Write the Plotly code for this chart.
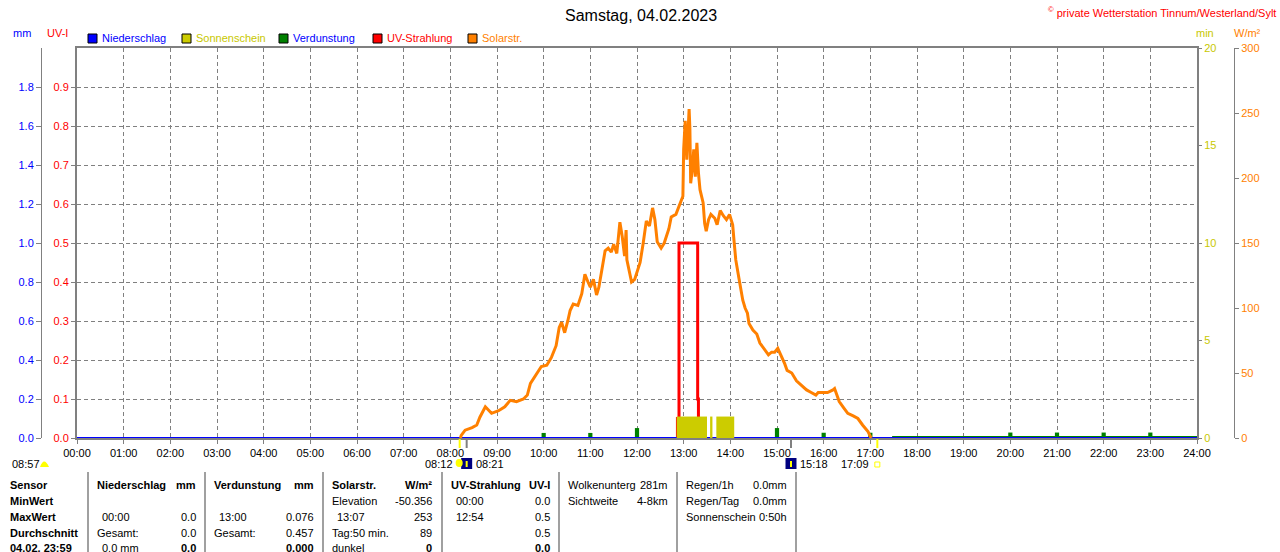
import plotly.graph_objects as go

# ---- Tagesdaten 04.02.2023 ----
solar_t = [
    "08:13", "08:14", "08:19", "08:28", "08:34", "08:38", "08:45", "08:53", "09:02", "09:10",
    "09:17", "09:25", "09:34", "09:39", "09:43", "09:51", "09:57", "10:04", "10:10", "10:16",
    "10:20", "10:23", "10:27", "10:31", "10:34", "10:38", "10:44", "10:49", "10:53", "10:57",
    "11:00", "11:04", "11:08", "11:11", "11:16", "11:19", "11:23", "11:27", "11:30", "11:34",
    "11:38", "11:41", "11:44", "11:46", "11:47", "11:50", "11:53", "11:57", "12:01", "12:04",
    "12:08", "12:12", "12:16", "12:20", "12:23", "12:26", "12:31", "12:35", "12:41", "12:44",
    "12:50", "12:55", "12:59", "13:00", "13:02", "13:04", "13:07", "13:08", "13:09", "13:11",
    "13:13", "13:15", "13:17", "13:19", "13:21", "13:25", "13:27", "13:29", "13:32", "13:35",
    "13:40", "13:43", "13:47", "13:51", "13:55", "13:59", "14:03", "14:05", "14:07", "14:11",
    "14:12", "14:16", "14:19", "14:22", "14:24", "14:29", "14:34", "14:38", "14:43", "14:49",
    "14:53", "14:57", "15:01", "15:05", "15:10", "15:13", "15:19", "15:25", "15:31", "15:38",
    "15:44", "15:50", "15:53", "15:58", "16:05", "16:12", "16:14", "16:17", "16:20", "16:26",
    "16:31", "16:38", "16:44", "16:50", "16:57", "17:01",
]
solar_v = [
    0, 2, 6, 8, 10, 16, 24, 19, 21, 24,
    29, 28, 30, 33, 42, 49, 55, 56, 62, 71,
    85, 89, 81, 90, 98, 103, 102, 111, 126, 120,
    116, 122, 110, 116, 134, 144, 146, 143, 149, 142,
    166, 155, 140, 160, 137, 128, 120, 122, 130, 135,
    150, 167, 163, 177, 168, 151, 146, 150, 161, 170,
    172, 179, 186, 222, 244, 214, 253, 238, 196, 206,
    222, 201, 227, 204, 191, 181, 165, 159, 168, 172,
    169, 164, 175, 171, 168, 172, 164, 150, 137, 123,
    119, 106, 100, 96, 88, 83, 80, 73, 69, 64,
    66, 66, 69, 64, 57, 52, 50, 44, 41, 37,
    35, 33, 35, 35, 35, 37, 38, 33, 28, 23,
    19, 17, 15, 10, 5, 0,
]

uv_t = ["12:52", "12:52", "12:54", "13:18", "13:19"]
uv_v = [0.0, 0.05, 0.5, 0.1, 0.0]

sun_start = ["12:51", "13:34", "13:42"]
sun_end = ["13:30", "13:37", "14:05"]
sun_min = [1.1, 1.1, 1.1]

verd_t = ["10:00", "11:00", "12:00", "13:00", "14:00", "15:00",
          "16:00", "17:00", "20:00", "21:00", "22:00", "23:00"]
verd_v = [0.026, 0.026, 0.051, 0.076, 0.071, 0.051,
          0.027, 0.027, 0.028, 0.028, 0.028, 0.028]
verd_line_t = ["17:28", "24:00"]
verd_line_v = [0.0, 0.0]

nied_t = ["00:00", "24:00"]
nied_v = [0.0, 0.0]

hour_labels = ["00:00", "01:00", "02:00", "03:00", "04:00", "05:00", "06:00", "07:00",
               "08:00", "09:00", "10:00", "11:00", "12:00", "13:00", "14:00", "15:00",
               "16:00", "17:00", "18:00", "19:00", "20:00", "21:00", "22:00", "23:00", "24:00"]
mm_ticks = [0.0, 0.2, 0.4, 0.6, 0.8, 1.0, 1.2, 1.4, 1.6, 1.8]
uv_ticks = [0.0, 0.1, 0.2, 0.3, 0.4, 0.5, 0.6, 0.7, 0.8, 0.9]
min_ticks = [0, 5, 10, 15, 20]
wm2_ticks = [0, 50, 100, 150, 200, 250, 300]

sun_events = ["08:12", "17:09"]    # Aufgang / Untergang
moon_events = ["08:21", "15:18"]
day_length = "08:57"

legend_names = ["Niederschlag", "Sonnenschein", "Verdunstung", "UV-Strahlung", "Solarstr."]

row_labels = ["Sensor", "MinWert", "MaxWert", "Durchschnitt", "04.02. 23:59"]
table_cols = [
    [("Niederschlag", "mm"), ("", ""), ("00:00", "0.0"), ("Gesamt:", "0.0"), ("0.0 mm", "0.0")],
    [("Verdunstung", "mm"), ("", ""), ("13:00", "0.076"), ("Gesamt:", "0.457"), ("", "0.000")],
    [("Solarstr.", "W/m²"), ("Elevation", "-50.356"), ("13:07", "253"), ("Tag:50 min.", "89"), ("dunkel", "0")],
    [("UV-Strahlung", "UV-I"), ("00:00", "0.0"), ("12:54", "0.5"), ("", "0.5"), ("", "0.0")],
]
info_cols = [
    [("Wolkenunterg", "281m"), ("Sichtweite", "4-8km")],
    [("Regen/1h", "0.0mm"), ("Regen/Tag", "0.0mm"), ("Sonnenschein", "0:50h")],
]

# ---- Layout in Pixeln ----
ML, MR, MT, MB = 30, 30, 48, 114
PW = 1280 - ML - MR
PH = 552 - MT - MB
FONT = "Liberation Sans, Arial, sans-serif"
GREY = "#808080"
BLUE, RED, GREEN, ORANGE, OLIVE = "#0000ff", "#ff0000", "#008000", "#ff8000", "#cccc00"


def px(x):
    return (x - ML) / PW


def py(y):
    return (MT + PH - y) / PH


def hrs(s):
    h, m = s.split(":")
    return int(h) + int(m) / 60.0


def text(fig, x, y, s, color="black", size=11, anchor="left", xref="paper", xshift=0):
    fig.add_annotation(
        x=x if xref != "paper" else px(x), y=py(y), xref=xref, yref="paper",
        text=s, showarrow=False, xanchor=anchor, yanchor="middle", xshift=xshift,
        font={"family": FONT, "size": size, "color": color},
    )


fig = go.Figure()

# Sonnenschein (min)
fig.add_trace(go.Bar(
    x=[(hrs(a) + hrs(b)) / 2 for a, b in zip(sun_start, sun_end)],
    width=[hrs(b) - hrs(a) for a, b in zip(sun_start, sun_end)],
    y=sun_min, yaxis="y3", marker={"color": OLIVE, "line": {"width": 0}},
))
# Verdunstung (mm)
fig.add_trace(go.Bar(
    x=[hrs(t) for t in verd_t], y=verd_v, width=0.09, yaxis="y2",
    marker={"color": GREEN, "line": {"width": 0}},
))
# Solarstrahlung (W/m2)
fig.add_trace(go.Scatter(
    x=[hrs(t) for t in solar_t], y=solar_v, yaxis="y4", mode="lines",
    line={"color": ORANGE, "width": 3},
))
# UV
fig.add_trace(go.Scatter(
    x=[hrs(t) for t in uv_t], y=uv_v, yaxis="y", mode="lines",
    line={"color": RED, "width": 3, "shape": "hv"},
))
fig.add_trace(go.Scatter(
    x=[hrs(t) for t in verd_line_t], y=verd_line_v, yaxis="y2", mode="lines",
    line={"color": GREEN, "width": 4},
))
fig.add_trace(go.Scatter(
    x=[hrs(t) for t in nied_t], y=nied_v, yaxis="y2", mode="lines",
    line={"color": BLUE, "width": 2},
))

fig.update_layout(
    width=1280, height=552,
    margin={"l": ML, "r": MR, "t": MT, "b": MB},
    paper_bgcolor="white", plot_bgcolor="white",
    showlegend=False, barmode="overlay",
    font={"family": FONT, "size": 11},
    xaxis={
        "domain": [px(77), px(1197)], "range": [0, 24],
        "tickvals": list(range(25)), "ticktext": hour_labels,
        "showgrid": True, "gridcolor": GREY, "griddash": "4px,3px", "gridwidth": 1,
        "showline": True, "mirror": True, "linecolor": GREY, "linewidth": 2,
        "ticks": "outside", "ticklen": 4, "tickcolor": GREY,
        "tickfont": {"color": "black", "size": 11}, "zeroline": False,
        "layer": "below traces",
    },
    yaxis={
        "range": [0, 1.0], "tickvals": uv_ticks, "ticktext": [f"{v:.1f}" for v in uv_ticks],
        "showgrid": True, "gridcolor": GREY, "griddash": "4px,3px", "gridwidth": 1,
        "showline": True, "mirror": True, "linecolor": GREY, "linewidth": 2,
        "ticks": "outside", "ticklen": 4, "tickcolor": GREY,
        "tickfont": {"color": RED, "size": 11}, "zeroline": False,
        "layer": "below traces",
    },
    yaxis2={
        "overlaying": "y", "anchor": "free", "position": px(41), "side": "left",
        "range": [0, 2.0], "tickvals": mm_ticks, "ticktext": [f"{v:.1f}" for v in mm_ticks],
        "showgrid": False, "showline": True, "linecolor": GREY, "linewidth": 1,
        "ticks": "outside", "ticklen": 5, "tickcolor": GREY,
        "tickfont": {"color": BLUE, "size": 11}, "zeroline": False,
    },
    yaxis3={
        "overlaying": "y", "anchor": "x", "side": "right",
        "range": [0, 20], "tickvals": min_ticks,
        "showgrid": False, "showline": False,
        "ticks": "outside", "ticklen": 4, "tickcolor": GREY,
        "tickfont": {"color": "#c8c800", "size": 11}, "zeroline": False,
    },
    yaxis4={
        "overlaying": "y", "anchor": "free", "position": px(1234), "side": "right",
        "range": [0, 300], "tickvals": wm2_ticks,
        "showgrid": False, "showline": True, "linecolor": GREY, "linewidth": 1,
        "ticks": "outside", "ticklen": 4, "tickcolor": GREY,
        "tickfont": {"color": ORANGE, "size": 11}, "zeroline": False,
    },
)

# Titel und Kopfzeile
text(fig, 641, 15, "Samstag, 04.02.2023", size=16, anchor="center")
text(fig, 1278, 12, "<sup>©</sup> private Wetterstation Tinnum/Westerland/Sylt", color=RED, anchor="right")
text(fig, 22, 33, "mm", color=BLUE, anchor="center")
text(fig, 57, 33, "UV-I", color=RED, anchor="center")
text(fig, 1205, 33, "min", color="#c8c800", anchor="center")
text(fig, 1247, 33, "W/m²", color=ORANGE, anchor="center")

# Legende
legend_box = [BLUE, OLIVE, GREEN, RED, ORANGE]
legend_txt = [BLUE, "#c8c800", BLUE, RED, ORANGE]
legend_x = [88, 182, 279, 373, 468]
for name, bc, tc, lx in zip(legend_names, legend_box, legend_txt, legend_x):
    fig.add_shape(type="rect", xref="paper", yref="paper",
                  x0=px(lx), x1=px(lx + 9), y0=py(43), y1=py(34),
                  fillcolor=bc, line={"color": "black", "width": 1})
    text(fig, lx + 12, 38, name, color=tc)

# Sonnen-/Mondmarken an der Zeitachse
for t in sun_events:
    fig.add_shape(type="line", xref="x", yref="paper", x0=hrs(t), x1=hrs(t),
                  y0=py(439), y1=py(448), line={"color": "#ffff00", "width": 2})
for t in moon_events:
    fig.add_shape(type="line", xref="x", yref="paper", x0=hrs(t), x1=hrs(t),
                  y0=py(439), y1=py(448), line={"color": GREY, "width": 2})
    fig.add_shape(type="rect", xref="x", yref="paper",
                  x0=hrs(t) - 5.5 / 46.625, x1=hrs(t) + 5.5 / 46.625, y0=py(469), y1=py(458),
                  fillcolor="#000080", line={"width": 0})
    fig.add_shape(type="line", xref="x", yref="paper", x0=hrs(t), x1=hrs(t),
                  y0=py(467), y1=py(461), line={"color": "#ffff00", "width": 2})
    text(fig, hrs(t), 464, t, anchor="left", xref="x", xshift=7)

fig.add_shape(type="circle", xref="x", yref="paper",
              x0=hrs(sun_events[0]) - 4 / 46.625, x1=hrs(sun_events[0]) + 3 / 46.625,
              y0=py(467), y1=py(459), fillcolor="#ffff00", line={"width": 0})
text(fig, hrs(sun_events[0]), 464, sun_events[0], anchor="right", xref="x", xshift=-5)
fig.add_shape(type="rect", xref="x", yref="paper",
              x0=hrs(sun_events[1]) - 2.5 / 46.625, x1=hrs(sun_events[1]) + 2.5 / 46.625,
              y0=py(467), y1=py(462), line={"color": "#ffff00", "width": 1})
text(fig, hrs(sun_events[1]), 464, sun_events[1], anchor="right", xref="x", xshift=-6)

text(fig, 10, 464, day_length)
fig.add_shape(type="path", xref="paper", yref="paper",
              path=f"M {px(40)},{py(467)} Q {px(44)},{py(456)} {px(49)},{py(467)} Z",
              fillcolor="#ffff00", line={"width": 0})

# Tabelle unten
row_y = [485, 501, 517, 533, 548]
for lab, y in zip(row_labels, row_y):
    text(fig, 8, y, f"<b>{lab}</b>")

col_pos = [(95, 198), (212, 316), (330, 434), (449, 552)]
for (xl, xr), rows in zip(col_pos, table_cols):
    for i, ((a, b), y) in enumerate(zip(rows, row_y)):
        bold = i == 0
        if a:
            ind = 5 if a[0].isdigit() else 0
            text(fig, xl + ind, y, f"<b>{a}</b>" if bold else a)
        if b:
            text(fig, xr, y, f"<b>{b}</b>" if (bold or i == 4) else b, anchor="right")

info_pos = [(566, 670), (684, 789)]
for (xl, xr), rows in zip(info_pos, info_cols):
    for (a, b), y in zip(rows, row_y):
        text(fig, xl, y, a)
        text(fig, xr, y, b, anchor="right")

for sx in [88, 205, 323, 442, 559, 677, 796]:
    fig.add_shape(type="line", xref="paper", yref="paper",
                  x0=px(sx), x1=px(sx), y0=py(472), y1=py(556),
                  line={"color": "#a0a0a0", "width": 2})

# Seitenrand des Browsers entfernen, damit das Bild bei 0,0 beginnt
fig.write_html("out.html", config={"displayModeBar": False},
               post_script="document.body.style.margin='0px';document.body.style.overflow='hidden';")
